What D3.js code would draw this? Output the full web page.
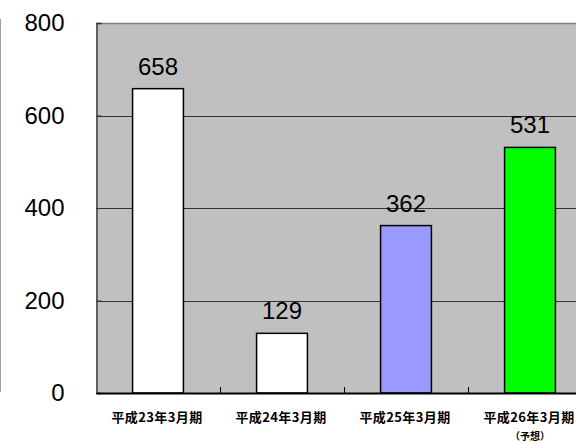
<!DOCTYPE html>
<html><head><meta charset="utf-8">
<script src="https://cdn.jsdelivr.net/npm/d3@7"></script>
<style>body{margin:0;background:#fff}svg{display:block}</style>
</head><body>
<svg id="c" width="576" height="443"></svg>
<script>
const categories = ["平成23年3月期","平成24年3月期","平成25年3月期","平成26年3月期"];
const subLabels = ["","","","（予想）"];
const values = [658,129,362,531];
const barColors = ["#ffffff","#ffffff","#9999ff","#00ff00"];
const yTicks = [0,200,400,600,800];

const svg = d3.select("#c");
const pL = 96, pR = 592, pT = 23, pB = 393;
const x = d3.scaleBand().domain(categories).range([pL, pR]).padding(0);
const y = d3.scaleLinear().domain([0,800]).range([pB, pT]);
const barFrac = 0.41;

// outer left line
svg.append("line").attr("x1",0.5).attr("x2",0.5).attr("y1",19).attr("y2",392)
  .attr("stroke","#a0a0a0").attr("stroke-width",1);

// plot background
svg.append("rect").attr("x",pL).attr("y",pT).attr("width",pR-pL).attr("height",pB-pT)
  .attr("fill","#c0c0c0");

// gridlines
svg.append("g").selectAll("line").data(yTicks.filter(d=>d>0&&d<800)).join("line")
  .attr("x1",pL).attr("x2",pR).attr("y1",d=>Math.round(y(d))+0.5).attr("y2",d=>Math.round(y(d))+0.5)
  .attr("stroke","#333").attr("stroke-width",1);
// top border
svg.append("line").attr("x1",pL).attr("x2",pR).attr("y1",pT+0.5).attr("y2",pT+0.5)
  .attr("stroke","#808080").attr("stroke-width",1.5);

// bars
svg.append("g").selectAll("rect").data(values).join("rect")
  .attr("x",(d,i)=>x(categories[i]) + x.bandwidth()*(1-barFrac)/2)
  .attr("width",x.bandwidth()*barFrac)
  .attr("y",d=>y(d)).attr("height",d=>y(0)-y(d))
  .attr("fill",(d,i)=>barColors[i]).attr("stroke","#000").attr("stroke-width",1.5);

// value labels
svg.append("g").selectAll("text").data(values).join("text")
  .attr("x",(d,i)=>x(categories[i])+x.bandwidth()/2)
  .attr("y",d=>y(d)-14)
  .attr("text-anchor","middle").attr("font-family","Liberation Sans, Arial, sans-serif")
  .attr("font-size",24).attr("fill","#000").text(d=>d);

// y axis
const yAxis = d3.axisLeft(y).tickValues(yTicks).tickSize(-5).tickPadding(32).tickFormat(d3.format("d"));
const gy = svg.append("g").attr("transform",`translate(${pL+0.5},0)`).call(yAxis);
gy.select(".domain").attr("stroke","#404040").attr("stroke-width",1.5);
gy.selectAll(".tick line").attr("stroke","#333");
gy.selectAll("text").attr("font-family","Liberation Sans, Arial, sans-serif").attr("font-size",24).attr("fill","#000");

// x axis
const xAxis = d3.axisBottom(x).tickSize(0).tickFormat("");
const gx = svg.append("g").attr("transform",`translate(0,${pB})`).call(xAxis);
gx.select(".domain").attr("stroke","#000").attr("stroke-width",2);
// boundary ticks
svg.append("g").selectAll("line").data(categories.slice(1)).join("line")
  .attr("x1",d=>Math.round(x(d))+0.5).attr("x2",d=>Math.round(x(d))+0.5)
  .attr("y1",pB-6).attr("y2",pB).attr("stroke","#000").attr("stroke-width",1);

// category labels
svg.append("g").selectAll("text").data(categories).join("text")
  .attr("x",d=>x(d)+x.bandwidth()/2-1).attr("y",422)
  .attr("text-anchor","middle").attr("font-family","Noto Sans CJK JP, sans-serif")
  .attr("font-size",13).attr("font-weight","bold").attr("letter-spacing",0.4).attr("fill","#000").text(d=>d);
svg.append("g").selectAll("text").data(subLabels).join("text")
  .attr("x",(d,i)=>x(categories[i])+x.bandwidth()/2).attr("y",440)
  .attr("text-anchor","middle").attr("font-family","Noto Sans CJK JP, sans-serif")
  .attr("font-size",10).attr("font-weight","bold").attr("fill","#000").text(d=>d);
</script>
</body></html>
